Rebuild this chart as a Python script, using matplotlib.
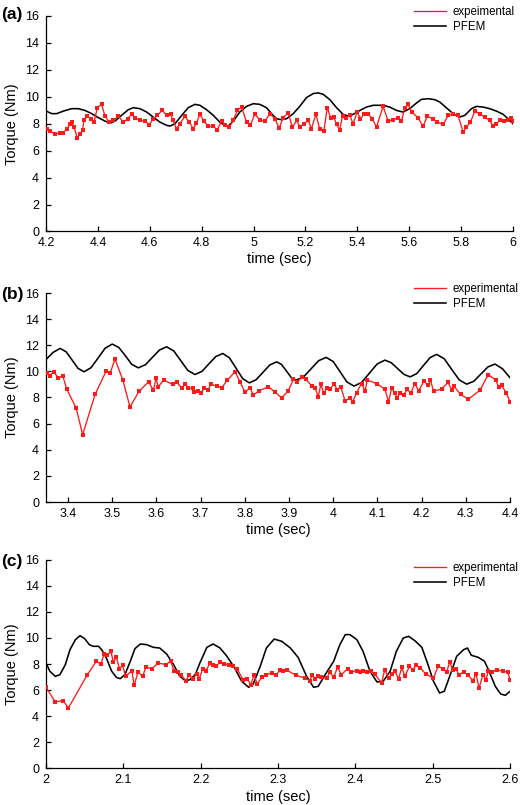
import numpy as np
import matplotlib
matplotlib.use("Agg")
import matplotlib.pyplot as plt
from matplotlib.lines import Line2D
from matplotlib.ticker import FuncFormatter, MultipleLocator

plt.rcParams["font.family"] = ["Liberation Sans", "DejaVu Sans"]

# ---------------- panel (a)
a_exp_t = [4.203, 4.215, 4.235, 4.254, 4.267, 4.280, 4.292, 4.299, 4.308, 4.321,
           4.331, 4.341, 4.346, 4.359, 4.372, 4.385, 4.398, 4.414, 4.427, 4.443,
           4.459, 4.479, 4.498, 4.515, 4.530, 4.543, 4.562, 4.581, 4.598, 4.613,
           4.629, 4.648, 4.665, 4.680, 4.690, 4.703, 4.716, 4.735, 4.752, 4.768,
           4.780, 4.793, 4.809, 4.825, 4.845, 4.860, 4.877, 4.890, 4.906, 4.922,
           4.937, 4.954, 4.973, 4.988, 5.005, 5.024, 5.044, 5.063, 5.082, 5.099,
           5.114, 5.133, 5.150, 5.166, 5.178, 5.194, 5.211, 5.223, 5.240, 5.255,
           5.271, 5.284, 5.297, 5.309, 5.320, 5.332, 5.343, 5.358, 5.371, 5.384,
           5.399, 5.412, 5.425, 5.442, 5.458, 5.474, 5.499, 5.519, 5.538, 5.557,
           5.570, 5.583, 5.596, 5.609, 5.634, 5.653, 5.669, 5.692, 5.707, 5.731,
           5.750, 5.769, 5.788, 5.808, 5.820, 5.836, 5.853, 5.872, 5.891, 5.910,
           5.923, 5.936, 5.949, 5.964, 5.981, 5.994, 6.000]
a_exp_v = [7.63, 7.45, 7.25, 7.30, 7.35, 7.60, 7.95, 8.10, 7.75, 6.93,
           7.25, 7.50, 8.25, 8.55, 8.37, 8.12, 9.20, 9.44, 8.60, 8.12,
           8.25, 8.55, 8.12, 8.37, 8.70, 8.45, 8.25, 8.20, 7.93, 8.35,
           8.62, 9.00, 8.62, 8.75, 8.25, 7.63, 7.99, 8.55, 8.12, 7.63,
           8.05, 8.70, 8.20, 7.80, 7.80, 7.55, 8.20, 7.88, 7.75, 8.25,
           9.00, 9.24, 8.12, 7.88, 8.75, 8.25, 8.20, 8.75, 8.37, 7.68,
           8.45, 8.80, 7.75, 8.25, 7.75, 7.99, 8.25, 7.63, 8.70, 7.63,
           7.45, 9.20, 8.45, 8.50, 7.95, 7.55, 8.57, 8.45, 8.62, 7.99,
           8.87, 8.37, 8.70, 8.70, 8.37, 7.75, 9.29, 8.20, 8.30, 8.45,
           8.20, 9.20, 9.44, 8.87, 8.45, 7.80, 8.55, 8.37, 8.12, 7.95,
           8.62, 8.70, 8.62, 7.38, 7.75, 8.12, 8.94, 8.70, 8.50, 8.25,
           7.80, 7.99, 8.25, 8.20, 8.30, 8.45, 8.20]
a_fem_t = [4.203, 4.222, 4.241, 4.267, 4.299, 4.325, 4.350, 4.376, 4.402, 4.427,
           4.447, 4.466, 4.491, 4.517, 4.536, 4.562, 4.588, 4.613, 4.639, 4.665,
           4.678, 4.697, 4.723, 4.748, 4.774, 4.793, 4.819, 4.845, 4.870, 4.890,
           4.902, 4.922, 4.947, 4.973, 4.999, 5.024, 5.050, 5.069, 5.089, 5.108,
           5.127, 5.153, 5.178, 5.204, 5.230, 5.249, 5.268, 5.294, 5.320, 5.345,
           5.365, 5.384, 5.410, 5.435, 5.461, 5.499, 5.525, 5.551, 5.576, 5.602,
           5.628, 5.647, 5.673, 5.698, 5.718, 5.743, 5.769, 5.795, 5.814, 5.840,
           5.859, 5.885, 5.910, 5.936, 5.962, 5.981, 6.000]
a_fem_v = [8.92, 8.75, 8.75, 8.94, 9.12, 9.12, 8.99, 8.75, 8.45, 8.20,
           8.05, 8.20, 8.62, 9.04, 9.19, 9.12, 8.87, 8.50, 8.12, 7.88,
           7.83, 8.00, 8.62, 9.19, 9.44, 9.37, 9.04, 8.62, 8.12, 7.88,
           7.83, 8.20, 8.87, 9.29, 9.49, 9.44, 9.19, 8.75, 8.37, 8.30,
           8.37, 8.75, 9.29, 9.94, 10.24, 10.29, 10.19, 9.79, 9.19, 8.70,
           8.57, 8.70, 8.99, 9.24, 9.37, 9.37, 9.24, 8.99, 8.87, 9.12,
           9.54, 9.81, 9.86, 9.79, 9.61, 9.19, 8.75, 8.50, 8.62, 9.12,
           9.29, 9.24, 9.12, 8.94, 8.70, 8.37, 8.00]

# ---------------- panel (b)
b_exp_t = [3.352, 3.358, 3.367, 3.378, 3.388, 3.397, 3.418, 3.433, 3.461, 3.486,
           3.495, 3.506, 3.524, 3.540, 3.561, 3.582, 3.593, 3.599, 3.604, 3.616,
           3.637, 3.646, 3.657, 3.665, 3.672, 3.682, 3.685, 3.693, 3.701, 3.708,
           3.717, 3.723, 3.736, 3.748, 3.760, 3.778, 3.789, 3.800, 3.812, 3.819,
           3.831, 3.853, 3.868, 3.883, 3.898, 3.910, 3.919, 3.929, 3.938, 3.951,
           3.959, 3.966, 3.972, 3.979, 3.987, 3.993, 4.002, 4.009, 4.017, 4.027,
           4.037, 4.044, 4.053, 4.064, 4.072, 4.077, 4.098, 4.117, 4.125, 4.132,
           4.140, 4.144, 4.151, 4.159, 4.168, 4.175, 4.185, 4.193, 4.205, 4.215,
           4.220, 4.227, 4.245, 4.260, 4.268, 4.273, 4.288, 4.306, 4.332, 4.351,
           4.368, 4.374, 4.381, 4.392, 4.400]
b_exp_v = [9.84, 9.66, 9.97, 9.51, 9.64, 8.64, 7.21, 5.16, 8.23, 10.02,
           9.84, 10.94, 9.33, 7.28, 8.49, 9.20, 8.56, 9.46, 8.82, 9.33,
           9.00, 9.15, 8.74, 9.07, 8.69, 8.74, 8.43, 8.49, 8.38, 8.69,
           8.61, 9.00, 8.89, 8.74, 9.33, 9.97, 9.20, 8.43, 8.74, 8.18,
           8.49, 8.82, 8.43, 7.97, 8.49, 9.41, 9.20, 9.58, 9.41, 8.89,
           8.74, 8.05, 9.00, 8.31, 8.74, 8.64, 9.07, 8.56, 8.82, 7.72,
           7.97, 7.67, 8.38, 9.07, 8.49, 9.33, 9.07, 8.64, 7.67, 8.69,
           8.38, 7.97, 8.31, 8.18, 8.64, 8.31, 9.07, 8.49, 9.25, 8.95,
           9.33, 8.49, 8.64, 9.15, 8.56, 8.89, 8.23, 7.87, 8.56, 9.76,
           9.33, 8.82, 8.95, 8.31, 7.67]
b_fem_t = [3.350, 3.366, 3.382, 3.3955, 3.409, 3.4225, 3.436, 3.452, 3.468, 3.484,
           3.500, 3.515, 3.530, 3.544, 3.559, 3.575, 3.591, 3.607, 3.623, 3.639,
           3.655, 3.671, 3.687, 3.703, 3.7185, 3.734, 3.750, 3.765, 3.780, 3.795,
           3.810, 3.8255, 3.841, 3.8565, 3.872, 3.883, 3.894, 3.905, 3.916, 3.933,
           3.950, 3.967, 3.984, 4.000, 4.0155, 4.031, 4.047, 4.0645, 4.082, 4.0995,
           4.117, 4.131, 4.1455, 4.160, 4.174, 4.189, 4.204, 4.219, 4.234, 4.251,
           4.268, 4.285, 4.302, 4.318, 4.334, 4.350, 4.366, 4.383, 4.400]
b_fem_v = [10.91, 11.45, 11.76, 11.50, 10.87, 10.23, 9.97, 10.28, 11.03, 11.78,
           12.09, 11.82, 11.18, 10.54, 10.27, 10.51, 11.08, 11.64, 11.88, 11.57,
           10.82, 10.07, 9.76, 10.00, 10.57, 11.13, 11.37, 11.04, 10.25, 9.45,
           9.12, 9.36, 9.93, 10.49, 10.73, 10.53, 10.03, 9.53, 9.33, 9.58,
           10.20, 10.82, 11.07, 10.75, 9.97, 9.19, 8.87, 9.16, 9.87, 10.57,
           10.86, 10.67, 10.22, 9.77, 9.58, 9.83, 10.44, 11.05, 11.30, 10.97,
           10.16, 9.35, 9.02, 9.24, 9.79, 10.34, 10.56, 10.20, 9.51]

# ---------------- panel (c)
c_exp_t = [2.000, 2.012, 2.022, 2.029, 2.053, 2.065, 2.071, 2.075, 2.079, 2.084,
           2.087, 2.091, 2.095, 2.099, 2.103, 2.111, 2.114, 2.119, 2.125, 2.129,
           2.137, 2.145, 2.155, 2.161, 2.166, 2.171, 2.175, 2.181, 2.185, 2.190,
           2.195, 2.198, 2.203, 2.207, 2.212, 2.216, 2.220, 2.225, 2.230, 2.237,
           2.242, 2.247, 2.255, 2.260, 2.265, 2.269, 2.273, 2.279, 2.285, 2.292,
           2.297, 2.303, 2.307, 2.312, 2.323, 2.335, 2.341, 2.344, 2.348, 2.352,
           2.356, 2.363, 2.367, 2.372, 2.377, 2.382, 2.390, 2.395, 2.402, 2.406,
           2.410, 2.415, 2.420, 2.425, 2.434, 2.438, 2.443, 2.447, 2.451, 2.456,
           2.460, 2.464, 2.470, 2.474, 2.479, 2.484, 2.491, 2.501, 2.507, 2.513,
           2.518, 2.522, 2.526, 2.530, 2.534, 2.540, 2.546, 2.552, 2.556, 2.560,
           2.565, 2.569, 2.572, 2.577, 2.583, 2.591, 2.597, 2.600]
c_exp_v = [6.21, 5.08, 5.18, 4.62, 7.13, 8.21, 8.00, 8.77, 8.67, 8.97,
           8.15, 8.51, 7.64, 7.90, 7.05, 7.49, 6.36, 7.38, 7.05, 7.74,
           7.64, 8.08, 7.95, 8.21, 7.44, 7.38, 7.13, 6.72, 7.13, 6.87,
           7.23, 6.87, 7.64, 7.49, 8.08, 7.95, 7.82, 8.15, 8.00, 7.95,
           7.82, 7.62, 6.79, 6.87, 6.41, 7.18, 6.46, 6.97, 7.18, 7.31,
           7.13, 7.56, 7.44, 7.51, 7.13, 6.92, 6.72, 7.13, 6.87, 7.05,
           6.97, 6.92, 7.38, 6.97, 7.74, 7.18, 7.64, 7.38, 7.49, 7.38,
           7.44, 7.38, 7.49, 7.23, 6.54, 7.56, 6.92, 7.23, 7.44, 6.87,
           7.74, 7.05, 7.82, 7.56, 7.90, 7.69, 7.23, 6.92, 7.82, 7.64,
           7.38, 8.15, 7.56, 7.64, 7.18, 7.38, 7.13, 6.72, 7.23, 6.15,
           7.18, 6.79, 7.49, 7.38, 7.56, 7.44, 7.38, 6.79]
c_fem_t = [2.000, 2.005, 2.012, 2.018, 2.025, 2.031, 2.038, 2.044, 2.050, 2.056,
           2.061, 2.068, 2.072, 2.078, 2.085, 2.091, 2.096, 2.102, 2.109, 2.115,
           2.122, 2.130, 2.139, 2.147, 2.156, 2.165, 2.173, 2.180, 2.186, 2.193,
           2.199, 2.208, 2.216, 2.225, 2.234, 2.244, 2.253, 2.262, 2.268, 2.277,
           2.285, 2.295, 2.305, 2.316, 2.326, 2.337, 2.346, 2.352, 2.361, 2.372,
           2.380, 2.387, 2.393, 2.402, 2.410, 2.419, 2.428, 2.436, 2.445, 2.453,
           2.462, 2.469, 2.477, 2.486, 2.494, 2.501, 2.509, 2.515, 2.522, 2.531,
           2.540, 2.545, 2.550, 2.559, 2.567, 2.573, 2.581, 2.588, 2.594, 2.600]
c_fem_v = [8.08, 7.44, 7.05, 7.18, 7.95, 9.10, 9.87, 10.18, 9.95, 9.49,
           9.36, 9.36, 9.10, 8.46, 7.44, 6.97, 6.87, 7.18, 8.21, 9.18,
           9.54, 9.49, 9.28, 9.23, 8.77, 7.95, 7.05, 6.72, 6.79, 7.18,
           8.08, 9.28, 9.54, 9.23, 8.59, 7.69, 6.67, 6.21, 6.46, 7.82,
           9.23, 9.92, 9.74, 9.23, 8.51, 7.05, 6.21, 6.28, 7.18, 8.21,
           9.49, 10.26, 10.26, 9.87, 8.97, 7.44, 6.62, 6.67, 7.44, 8.97,
           10.00, 10.13, 9.79, 9.28, 7.95, 6.67, 5.77, 5.90, 7.05, 8.59,
           9.10, 9.23, 8.67, 8.51, 8.21, 7.44, 6.28, 5.69, 5.59, 5.90]

RED = "#ff1a1a"
W, H = 520, 805
fig = plt.figure(figsize=(W / 100, H / 100), dpi=100)


def px_axes(left, top, right, bottom):
    return fig.add_axes([left / W, 1 - bottom / H, (right - left) / W, (bottom - top) / H])


panels = [
    # label, box(left, top, right, bottom) px, xlim, xstep, legend top px,
    # panel-label y px, xlabel offset px, experimental label, data
    ("(a)", (46, 16, 513, 231.5), (4.2, 6.0), 0.2, 6, 15, 20, "expeimental",
     a_exp_t, a_exp_v, a_fem_t, a_fem_v),
    ("(b)", (46, 293, 510, 502), (3.35, 4.4), 0.1, 283, 294, 21, "experimental",
     b_exp_t, b_exp_v, b_fem_t, b_fem_v),
    ("(c)", (46, 560, 510, 768), (2.0, 2.6), 0.1, 562, 561, 22, "experimental",
     c_exp_t, c_exp_v, c_fem_t, c_fem_v),
]

for (lab, box, xlim, xstep, leg_top, lab_y, xl_off, exp_name,
     et, ev, ft, fv) in panels:
    ax = px_axes(*box)
    ax.plot(et, ev, "-s", color=RED, lw=0.95, ms=2.2, mew=0, zorder=3)
    ax.plot(ft, fv, "-", color="black", lw=1.15, zorder=2)
    ax.set_xlim(*xlim)
    ax.set_ylim(0, 16)
    ax.yaxis.set_major_locator(MultipleLocator(2))
    ax.xaxis.set_major_locator(MultipleLocator(xstep))
    ax.xaxis.set_major_formatter(FuncFormatter(lambda v, p: f"{round(v, 3):g}"))
    for s in ("top", "right"):
        ax.spines[s].set_visible(False)
    for s in ("left", "bottom"):
        ax.spines[s].set_linewidth(0.9)
    ax.tick_params(direction="in", length=3.5, width=0.9, labelsize=9)
    ax.tick_params(axis="y", pad=5)
    ax.tick_params(axis="x", pad=4)
    hpx = box[3] - box[1]
    wpx = box[2] - box[0]
    ax.set_ylabel("Torque (Nm)", fontsize=10.5)
    ax.yaxis.set_label_coords((19 - box[0]) / wpx, 0.5)
    ax.set_xlabel("time (sec)", fontsize=10.5)
    ax.xaxis.set_label_coords(0.5, -xl_off / hpx)
    handles = [Line2D([], [], color=RED, lw=0.95),
               Line2D([], [], color="black", lw=1.15)]
    ax.legend(handles, [exp_name, "PFEM"], loc="upper left",
              bbox_to_anchor=(414 / W, 1 - leg_top / H),
              bbox_transform=fig.transFigure, frameon=False, fontsize=8.3,
              borderpad=0, borderaxespad=0, handlelength=2.8,
              handletextpad=0.55, labelspacing=0.3)
    fig.text(1 / W, 1 - lab_y / H, lab, fontsize=12.5, fontweight="bold",
             ha="left", va="center")

fig.savefig("out.png", dpi=100)
